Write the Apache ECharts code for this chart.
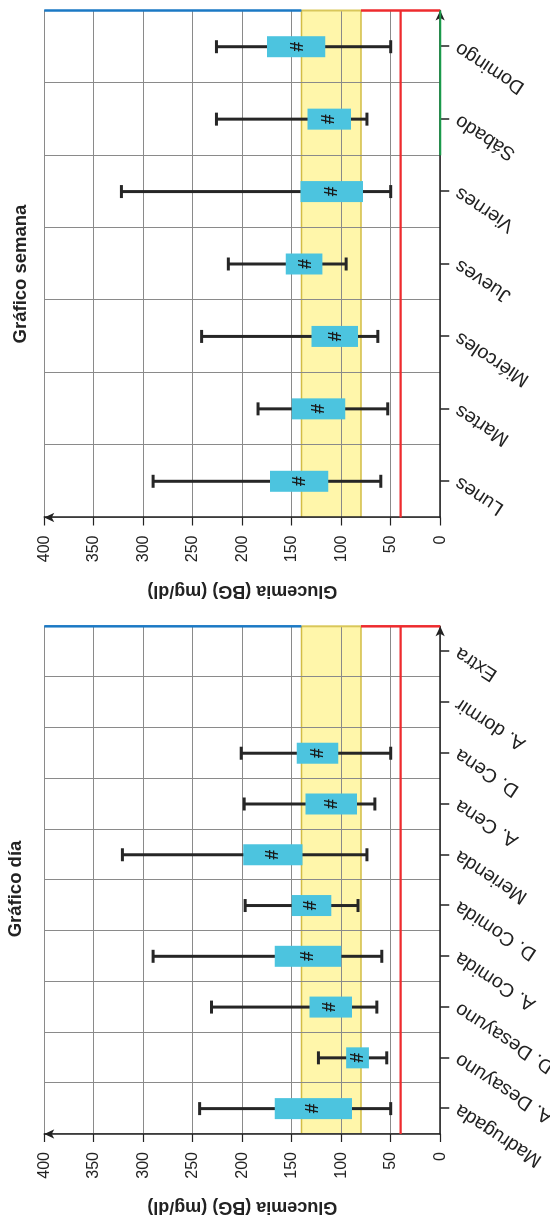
<!DOCTYPE html>
<html><head><meta charset="utf-8">
<script src="https://cdn.jsdelivr.net/npm/echarts/dist/echarts.min.js"></script>
<style>
html,body{margin:0;padding:0;width:550px;height:1218px;overflow:hidden;background:#fff}
#chart{position:absolute;left:0;top:0;width:1218px;height:550px;transform-origin:0 0;transform:translate(0,1218px) rotate(-90deg);}
</style></head>
<body><div id="chart"></div>
<script>
// ---- data ----
const diaTitle = 'Gráfico día';
const semTitle = 'Gráfico semana';
const axisName = 'Glucemia (BG) (mg/dl)';
const diaCats = ['Madrugada','A. Desayuno','D. Desayuno','A. Comida','D. Comida','Merienda','A. Cena','D. Cena','A. dormir','Extra'];
const diaMin  = [50, 54, 64, 59, 83, 74, 66, 50, null, null];
const diaQ1   = [89, 72, 89, 100, 110, 139, 84, 103, null, null];
const diaQ3   = [167, 95, 132, 167, 150, 199, 136, 145, null, null];
const diaMax  = [243, 123, 231, 290, 197, 321, 198, 201, null, null];
const diaMark = [129, 84, 112, 135, 131, 170, 110, 124, null, null];

const semCats = ['Lunes','Martes','Miércoles','Jueves','Viernes','Sábado','Domingo'];
const semMin  = [60, 53, 63, 95, 50, 74, 50];
const semQ1   = [113, 96, 83, 119, 78, 90, 116];
const semQ3   = [172, 150, 130, 156, 141, 134, 175];
const semMax  = [290, 184, 241, 214, 322, 226, 226];
const semMark = [143, 123, 106, 137, 110, 113, 145];

const valueMin = 0, valueMax = 400, valueStep = 50;
const targetLow = 80, targetHigh = 140, hypoLine = 40;
const weekendStart = 5; // Sábado

// ---- styles ----
const FONT = '"Liberation Sans", Arial, Helvetica, sans-serif';
const DARK = '#222222';
const GRIDC = '#8a8a8a';

function boxData(mn, q1, q3, mx, mk) {
  const out = [];
  for (let i = 0; i < mn.length; i++) {
    if (mn[i] != null) out.push([i, mn[i], q1[i], q3[i], mx[i], mk[i]]);
  }
  return out;
}

function boxRender(params, api) {
  const i = api.value(0);
  const pMin = api.coord([i, api.value(1)]);
  const pQ1 = api.coord([i, api.value(2)]);
  const pQ3 = api.coord([i, api.value(3)]);
  const pMax = api.coord([i, api.value(4)]);
  const pMk = api.coord([i, api.value(5)]);
  const x = pMin[0], bw = 21, cap = 13;
  const ls = {stroke: '#262626', lineWidth: 3};
  return {type: 'group', children: [
    {type: 'line', shape: {x1: x, y1: pMin[1], x2: x, y2: pMax[1]}, style: ls},
    {type: 'line', shape: {x1: x - cap/2, y1: pMin[1], x2: x + cap/2, y2: pMin[1]}, style: ls},
    {type: 'line', shape: {x1: x - cap/2, y1: pMax[1], x2: x + cap/2, y2: pMax[1]}, style: ls},
    {type: 'rect', shape: {x: x - bw/2, y: pQ3[1], width: bw, height: pQ1[1] - pQ3[1]}, style: {fill: '#4cc4df'}},
    {type: 'text', x: pMk[0], y: pMk[1] + 1, style: {text: '#', fill: '#1a1a1a', font: 'bold 18px ' + FONT, align: 'center', verticalAlign: 'middle'}}
  ]};
}

function bgRender(params, api) {
  const cs = params.coordSys;
  const yHi = api.coord([0, targetHigh])[1];
  const yLo = api.coord([0, targetLow])[1];
  return {type: 'group', children: [
    {type: 'rect', shape: {x: cs.x, y: yHi, width: cs.width, height: yLo - yHi}, style: {fill: '#fff6aa'}},
    {type: 'line', shape: {x1: cs.x, y1: yHi, x2: cs.x + cs.width, y2: yHi}, style: {stroke: '#d2bd45', lineWidth: 1.5}},
    {type: 'line', shape: {x1: cs.x, y1: yLo, x2: cs.x + cs.width, y2: yLo}, style: {stroke: '#d2bd45', lineWidth: 1.5}}
  ]};
}

function makeOverlay(greenFrom) {
  return function (params, api) {
    const cs = params.coordSys;
    const xr = cs.x + cs.width;
    const y0 = api.coord([0, valueMin])[1];
    const yTop = api.coord([0, valueMax])[1];
    const yHi = api.coord([0, targetHigh])[1];
    const yLo = api.coord([0, targetLow])[1];
    const yHypo = api.coord([0, hypoLine])[1];
    const kids = [
      {type: 'line', shape: {x1: cs.x, y1: yHypo, x2: xr, y2: yHypo}, style: {stroke: '#ee2b2e', lineWidth: 2.2}},
      {type: 'line', shape: {x1: xr, y1: yTop, x2: xr, y2: yHi}, style: {stroke: '#1b79c4', lineWidth: 2.5}},
      {type: 'line', shape: {x1: xr, y1: yHi, x2: xr, y2: yLo}, style: {stroke: '#d9c75a', lineWidth: 2}},
      {type: 'line', shape: {x1: xr, y1: yLo, x2: xr, y2: y0}, style: {stroke: '#ee2b2e', lineWidth: 2.5}}
    ];
    if (greenFrom != null) {
      const xa = api.coord([greenFrom - 1, 0])[0];
      const xb = api.coord([greenFrom, 0])[0];
      const xs = (xa + xb) / 2;
      kids.push({type: 'line', shape: {x1: xs, y1: y0, x2: xr, y2: y0}, style: {stroke: '#1a9a4a', lineWidth: 2}});
    }
    return {type: 'group', children: kids};
  };
}

function catAxis(cats, gi) {
  return {
    type: 'category', gridIndex: gi, data: cats, boundaryGap: true,
    axisLine: {show: true, lineStyle: {color: DARK, width: 1.5}, symbol: ['none', 'arrow'], symbolSize: [7, 10]},
    axisTick: {show: true, alignWithLabel: true, interval: 0, length: 9, lineStyle: {color: DARK, width: 1.5}},
    axisLabel: {interval: 0, rotate: 57, margin: 17, fontSize: 19.5, color: DARK, fontFamily: FONT},
    splitLine: {show: true, interval: 0, lineStyle: {color: GRIDC, width: 1}}
  };
}
function valAxis(gi) {
  return {
    type: 'value', gridIndex: gi, min: valueMin, max: valueMax, interval: valueStep,
    name: axisName, nameLocation: 'middle', nameGap: 64, nameRotate: 90,
    nameTextStyle: {fontSize: 18, fontWeight: 'bold', color: DARK, fontFamily: FONT},
    axisLine: {show: true, lineStyle: {color: DARK, width: 1.5}, symbol: ['none', 'arrow'], symbolSize: [7, 10]},
    axisTick: {show: true, length: 8, lineStyle: {color: DARK, width: 1.2}},
    axisLabel: {margin: 18, fontSize: 16, color: DARK, fontFamily: FONT},
    splitLine: {show: true, lineStyle: {color: GRIDC, width: 1}}
  };
}

const chart = echarts.init(document.getElementById('chart'), null, {renderer: 'canvas'});
chart.setOption({
  animation: false,
  backgroundColor: '#ffffff',
  grid: [
    {left: 84, right: 626.3, top: 44.2, bottom: 109.8, containLabel: false, outerBoundsMode: 'none'},
    {left: 700.5, right: 10.5, top: 44.2, bottom: 109.8, containLabel: false, outerBoundsMode: 'none'}
  ],
  xAxis: [catAxis(diaCats, 0), catAxis(semCats, 1)],
  yAxis: [valAxis(0), valAxis(1)],
  graphic: [
    {type: 'text', x: 329, y: 16, style: {text: diaTitle, font: 'bold 18.5px ' + FONT, fill: DARK, align: 'center', verticalAlign: 'middle'}},
    {type: 'text', x: 944, y: 20.6, style: {text: semTitle, font: 'bold 18.5px ' + FONT, fill: DARK, align: 'center', verticalAlign: 'middle'}}
  ],
  series: [
    {type: 'custom', xAxisIndex: 0, yAxisIndex: 0, z: -1, silent: true, data: [[0, 0]], renderItem: bgRender},
    {type: 'custom', xAxisIndex: 0, yAxisIndex: 0, z: 5, data: boxData(diaMin, diaQ1, diaQ3, diaMax, diaMark), renderItem: boxRender, encode: {x: 0, y: [1, 2, 3, 4, 5]}},
    {type: 'custom', xAxisIndex: 0, yAxisIndex: 0, z: 10, silent: true, data: [[0, 0]], renderItem: makeOverlay(null)},
    {type: 'custom', xAxisIndex: 1, yAxisIndex: 1, z: -1, silent: true, data: [[0, 0]], renderItem: bgRender},
    {type: 'custom', xAxisIndex: 1, yAxisIndex: 1, z: 5, data: boxData(semMin, semQ1, semQ3, semMax, semMark), renderItem: boxRender, encode: {x: 0, y: [1, 2, 3, 4, 5]}},
    {type: 'custom', xAxisIndex: 1, yAxisIndex: 1, z: 10, silent: true, data: [[0, 0]], renderItem: makeOverlay(weekendStart)}
  ]
});
</script>
</body></html>
